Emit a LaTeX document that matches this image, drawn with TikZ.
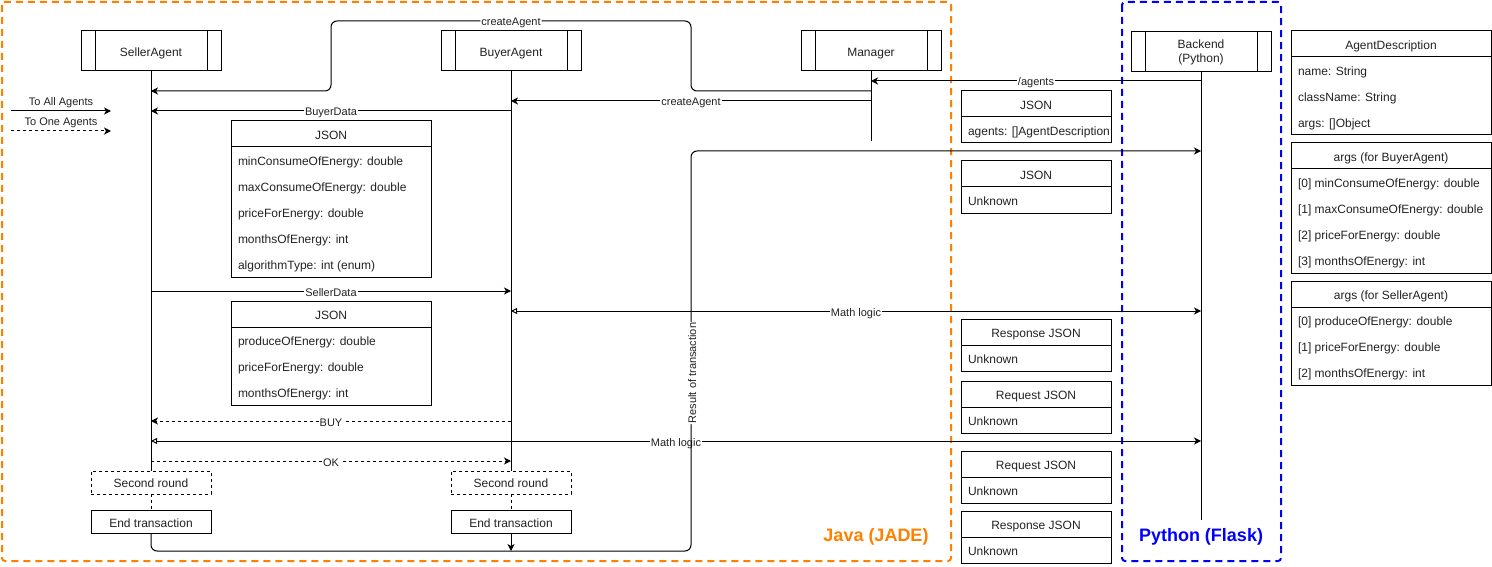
\documentclass[tikz,border=0pt]{standalone}
\usepackage{fontspec}
\setmainfont{Liberation Sans}
\usetikzlibrary{arrows.meta,calc}
\definecolor{jorange}{HTML}{FF8000}
\definecolor{pblue}{HTML}{0000FF}
\definecolor{txt}{HTML}{222222}
\tikzset{
  fs/.style={font=\fontsize{12}{14}\selectfont},
  fsl/.style={font=\fontsize{11}{13}\selectfont},
  th/.style={text height=13pt, text depth=2.6pt},
  thl/.style={text height=12pt, text depth=2pt},
  proc/.style={draw=black, line width=1pt, minimum width=140, minimum height=40, inner sep=0pt, outer sep=0pt,
    align=center, fs, text=txt,
    path picture={
      \draw[line width=1pt] ([xshift=14pt]path picture bounding box.north west) -- ([xshift=14pt]path picture bounding box.south west);
      \draw[line width=1pt] ([xshift=-14pt]path picture bounding box.north east) -- ([xshift=-14pt]path picture bounding box.south east);}},
  hdr/.style={draw=black, line width=1pt, minimum height=26, inner sep=0pt, outer sep=0pt, fs, th, text=txt},
  rowtxt/.style={inner sep=0pt, outer sep=0pt, fs, text=txt, anchor=west, th},
  bodybox/.style={draw=black, line width=1pt, inner sep=0pt, outer sep=0pt, anchor=north west},
  roundbox/.style={draw=black, line width=1pt, dash pattern=on 3pt off 3pt, minimum width=120, minimum height=23, inner sep=0pt, outer sep=0pt, fs, th, text=txt},
  endbox/.style={draw=black, line width=1pt, minimum width=120, minimum height=23, inner sep=0pt, outer sep=0pt, fs, th, text=txt},
  lifeline/.style={line width=1pt},
  dsh/.style={dash pattern=on 3pt off 3pt},
  msg/.style={line width=1pt, -{Stealth[length=7pt,width=7pt,inset=2pt]}},
  mathmsg/.style={line width=1pt, {Triangle[open,length=6pt,width=6pt]}-{Stealth[length=7pt,width=7pt,inset=2pt]}},
  lbl/.style={fill=white, inner sep=1pt, fsl, thl, text=txt},
  legtxt/.style={inner sep=1pt, fsl, thl, text=txt},
  region/.style={line width=2pt, dash pattern=on 7pt off 5pt, rounded corners=3pt},
  regtitle/.style={font=\bfseries\fontsize{18}{20}\selectfont, inner sep=0pt}
}
\newcommand{\umlclass}[7]{%
  \node[hdr, minimum width=#4, anchor=north west] (#1) at (#2,#3) {#5};
  \node[bodybox, minimum width=#4, minimum height=#6*26] (#1b) at (#1.south west) {};
  \foreach \r [count=\i] in {#7} {\node[rowtxt] (#1r\i) at ($(#1b.north west)+(7,{13+(\i-1)*26})$) {\r};}
}
\begin{document}
\begin{tikzpicture}[x=1pt,y=-1pt]
\useasboundingbox (0,0) rectangle (1492,567);
% regions
\draw[region, jorange] (2,2) rectangle (951,561);
\node[regtitle, text=jorange] (javalbl) at (876,537) {Java (JADE)};
\draw[region, pblue] (1122,2) rectangle (1281,561);
\node[regtitle, text=pblue] (pylbl) at (1201,537) {Python (Flask)};
% lifeline heads
\node[proc, th] (seller) at (151,51) {SellerAgent};
\node[proc, th] (buyer) at (511,51) {BuyerAgent};
\node[proc, th] (manager) at (871,51) {Manager};
\node[proc] (backend) at (1201,52) {Backend\\(Python)};
% activity boxes
\node[roundbox] (s2) at (151,482.5) {Second round};
\node[endbox] (s3) at (151,522) {End transaction};
\node[roundbox] (b2) at (511,482.5) {Second round};
\node[endbox] (b3) at (511,522) {End transaction};
% lifelines
\coordinate (mgrEnd) at (871,141);
\coordinate (beEnd) at (1201,520);
\draw[lifeline] (seller.south) -- (s2.north);
\draw[lifeline, dsh] (s2.south) -- (s3.north);
\draw[lifeline] (buyer.south) -- (b2.north);
\draw[lifeline, dsh] (b2.south) -- (b3.north);
\draw[lifeline] (manager.south) -- (mgrEnd);
\draw[lifeline] (backend.south) -- (beEnd);
% classes
\umlclass{jsonA}{231}{121}{200}{JSON}{5}{{minConsumeOfEnergy: double},{maxConsumeOfEnergy: double},{priceForEnergy: double},{monthsOfEnergy: int},{algorithmType: int (enum)}}
\umlclass{jsonB}{231}{301}{200}{JSON}{3}{{produceOfEnergy: double},{priceForEnergy: double},{monthsOfEnergy: int}}
\umlclass{rA}{961}{91}{150}{JSON}{1}{{agents: []AgentDescription}}
\umlclass{rB}{961}{161}{150}{JSON}{1}{{Unknown}}
\umlclass{rC}{961}{319}{150}{Response JSON}{1}{{Unknown}}
\umlclass{rD}{961}{381}{150}{Request JSON}{1}{{Unknown}}
\umlclass{rE}{961}{451}{150}{Request JSON}{1}{{Unknown}}
\umlclass{rF}{961}{511}{150}{Response JSON}{1}{{Unknown}}
\umlclass{agd}{1291}{31}{200}{AgentDescription}{3}{{name: String},{className: String},{args: []Object}}
\umlclass{bargs}{1291}{143}{200}{args (for BuyerAgent)}{4}{{[0] minConsumeOfEnergy: double},{[1] maxConsumeOfEnergy: double},{[2] priceForEnergy: double},{[3] monthsOfEnergy: int}}
\umlclass{sargs}{1291}{281}{200}{args (for SellerAgent)}{3}{{[0] produceOfEnergy: double},{[1] priceForEnergy: double},{[2] monthsOfEnergy: int}}
% messages
\draw[msg, rounded corners=6pt] (manager.south |- 0,91) -- (691,91) -- (691,21) -- node[lbl] (lcA) {createAgent} (331,21) -- (331,91) -- (seller.south |- 0,91);
\draw[msg] (manager.south |- 0,101) -- node[lbl] (lcB) {createAgent} (buyer.south |- 0,101);
\draw[msg] (backend.south |- 0,81) -- node[lbl] (lag) {/agents} (manager.south |- 0,81);
\draw[msg] (buyer.south |- 0,111) -- node[lbl] (lbd) {BuyerData} (seller.south |- 0,111);
\draw[msg] (seller.south |- 0,291) -- node[lbl] (lsd) {SellerData} (buyer.south |- 0,291);
\draw[mathmsg] (buyer.south |- 0,311) -- node[lbl] (lm1) {Math logic} (backend.south |- 0,311);
\draw[msg, dsh] (buyer.south |- 0,421) -- node[lbl] (lbuy) {BUY} (seller.south |- 0,421);
\draw[mathmsg] (seller.south |- 0,441) -- node[lbl] (lm2) {Math logic} (backend.south |- 0,441);
\draw[msg, dsh] (seller.south |- 0,461) -- node[lbl] (lok) {OK} (buyer.south |- 0,461);
% result of transaction
\draw[msg, rounded corners=6pt] (s3.south) -- (151,551) -- (691,551) -- node[lbl, rotate=90, pos=0.445] (lres) {Result of transaction} (691,151) -- (backend.south |- 0,151);
\coordinate (bEnd) at (511,551);
\draw[msg] (b3.south) -- (bEnd);
% legend
\coordinate (lg1a) at (11,111);
\coordinate (lg1b) at (111,111);
\coordinate (lg2a) at (11,131);
\coordinate (lg2b) at (111,131);
\draw[msg] (lg1a) -- (lg1b);
\draw[msg, dsh] (lg2a) -- (lg2b);
\node[legtxt] (lgt1) at (61,100.5) {To All Agents};
\node[legtxt] (lgt2) at (61,120.5) {To One Agents};
\end{tikzpicture}
\end{document}
